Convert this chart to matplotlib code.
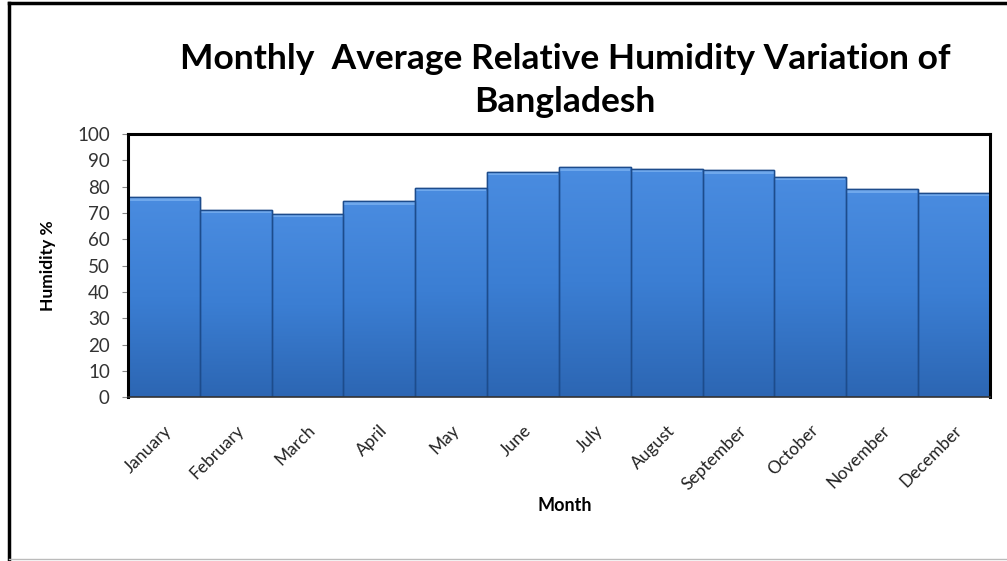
import numpy as np
import matplotlib.pyplot as plt
from matplotlib.lines import Line2D
from matplotlib.colors import LinearSegmentedColormap

plt.rcParams['font.family'] = ['Lato', 'DejaVu Sans']

months = ["January", "February", "March", "April", "May", "June",
          "July", "August", "September", "October", "November", "December"]
humidity = [76.0, 71.3, 69.8, 74.5, 79.6, 85.6, 87.3, 86.9, 86.2, 83.7, 79.0, 77.7]
yticks = list(range(0, 101, 10))

fig = plt.figure(figsize=(10.07, 5.61), dpi=100)
ax = fig.add_axes([0.127, 0.292, 0.856, 0.469])

x = np.arange(len(months))
bars = ax.bar(x, humidity, width=1.0, color='#3b7ed3', edgecolor='#1d4c8c', linewidth=1.0)

# vertical shading inside each bar, darker towards the base
shade = LinearSegmentedColormap.from_list('shade', ['#2c66b3', '#3b7ed3', '#4a8ce0'])
grad = np.linspace(0, 1, 256).reshape(-1, 1)
for b in bars:
    x0, w, h = b.get_x(), b.get_width(), b.get_height()
    im = ax.imshow(grad, cmap=shade, origin='lower', aspect='auto',
                   extent=(x0, x0 + w, 0, h), zorder=b.get_zorder() + 0.1)
    im.set_clip_path(b)
    # highlight along the bar top
    ax.bar(x0 + w / 2, 1.3, bottom=h - 1.3, width=w * 0.98, color='#6fa8ec',
           edgecolor='none', zorder=b.get_zorder() + 0.2)
    ax.bar(x0 + w / 2, h, width=w, color='none', edgecolor='#1d4c8c',
           linewidth=1.0, zorder=b.get_zorder() + 0.3)

ax.set_xlim(-0.5, len(months) - 0.5)
ax.set_ylim(0, 100)
ax.set_yticks(yticks)
ax.set_yticklabels([str(t) for t in yticks], fontsize=13.5, color='#333333')
ax.set_xticks(x)
ax.set_xticklabels(months, rotation=45, ha='right', va='top', rotation_mode='anchor',
                   fontsize=12.5, color='#222222')
ax.tick_params(axis='x', length=0, pad=18)
ax.tick_params(axis='y', length=4, width=0.8, color='#888888', pad=9)

for side in ['top', 'left', 'right']:
    ax.spines[side].set_linewidth(2.2)
    ax.spines[side].set_color('black')
ax.spines['bottom'].set_linewidth(1.2)
ax.spines['bottom'].set_color('#333333')

ax.set_ylabel('Humidity %', fontsize=12.5, fontweight='bold')
ax.yaxis.set_label_coords(-0.083, 0.5)
ax.set_xlabel('Month', fontsize=13, fontweight='bold')
ax.xaxis.set_label_coords(0.507, -0.38)

fig.text(0.561, 0.895, 'Monthly  Average Relative Humidity Variation of',
         ha='center', va='center', fontsize=25.5, fontweight='bold')
fig.text(0.561, 0.818, 'Bangladesh', ha='center', va='center',
         fontsize=25.5, fontweight='bold')

# outer frame
fig.add_artist(Line2D([0.009, 0.009], [0.0, 0.994], transform=fig.transFigure,
                      color='black', linewidth=2.5))
fig.add_artist(Line2D([0.009, 1.0], [0.994, 0.994], transform=fig.transFigure,
                      color='black', linewidth=2.5))
fig.add_artist(Line2D([0.009, 1.0], [0.004, 0.004], transform=fig.transFigure,
                      color='#bbbbbb', linewidth=1.0))

fig.savefig('out.png', dpi=100)
